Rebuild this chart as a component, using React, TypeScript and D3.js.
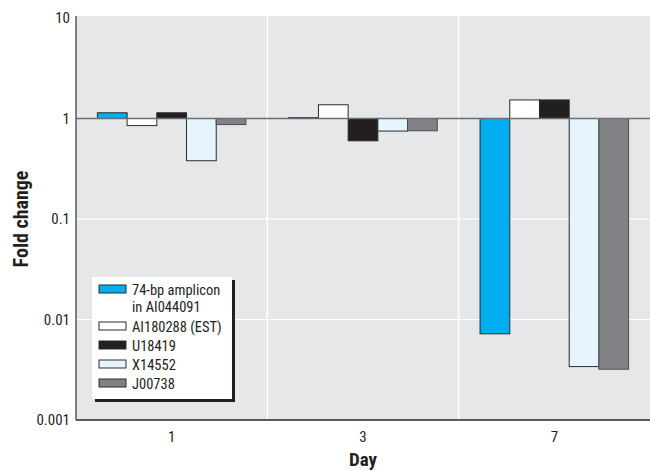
import React, { useEffect, useRef } from 'react';
import * as d3 from 'd3';

const days = ['1', '3', '7'];
const seriesNames = ['74-bp amplicon in AI044091', 'AI180288 (EST)', 'U18419', 'X14552', 'J00738'];
const legendLines = [['74-bp amplicon', 'in AI044091'], ['AI180288 (EST)'], ['U18419'], ['X14552'], ['J00738']];
const amplicon = [1.14, 1.02, 0.0072];
const ai180288 = [0.85, 1.37, 1.53];
const u18419 = [1.14, 0.6, 1.53];
const x14552 = [0.38, 0.75, 0.0034];
const j00738 = [0.87, 0.755, 0.0032];
const yTicks = [0.001, 0.01, 0.1, 1, 10];
const yTickLabels = ['0.001', '0.01', '0.1', '1', '10'];

const colors = ['#00aeef', '#ffffff', '#231f20', '#e6f5fd', '#808285'];
const font = '"Liberation Sans Narrow", "Arial Narrow", "Roboto Condensed", sans-serif';

const App: React.FC = () => {
    const chartRef = useRef<SVGSVGElement | null>(null);

    useEffect(() => {
        if (!chartRef.current) return;
        const width = 650;
        const height = 470;
        const margin = { top: 18, right: 0, bottom: 50, left: 76 };
        const values = [amplicon, ai180288, u18419, x14552, j00738];

        d3.select(chartRef.current).selectAll('*').remove();
        const svg = d3.select(chartRef.current).attr('width', width).attr('height', height);

        const x0 = d3.scaleBand().domain(days).range([margin.left, width - margin.right]);
        const x1 = d3.scaleBand().domain(seriesNames).range([0, x0.bandwidth()]).paddingOuter(0.72);
        const y = d3.scaleLog().domain([0.001, 10]).range([height - margin.bottom, margin.top]);

        // plot background
        svg.append('rect')
            .attr('x', margin.left)
            .attr('y', margin.top - 2)
            .attr('width', width - margin.left - margin.right)
            .attr('height', y(0.001) - margin.top + 2)
            .attr('fill', '#e6e7e8');

        // white grid lines
        svg.selectAll('line.hgrid')
            .data([0.01, 0.1])
            .enter()
            .append('line')
            .attr('x1', margin.left)
            .attr('x2', width)
            .attr('y1', d => y(d))
            .attr('y2', d => y(d))
            .attr('stroke', '#fff')
            .attr('stroke-width', 1.2);

        svg.selectAll('line.vgrid')
            .data(days.slice(1))
            .enter()
            .append('line')
            .attr('x1', d => x0(d)!)
            .attr('x2', d => x0(d)!)
            .attr('y1', margin.top - 2)
            .attr('y2', y(0.001))
            .attr('stroke', '#fff')
            .attr('stroke-width', 1.5);

        // bars hang from 1
        const groups = svg.selectAll('g.day')
            .data(days)
            .enter()
            .append('g')
            .attr('transform', d => `translate(${x0(d)}, 0)`);

        groups.selectAll('rect')
            .data((d, i) => seriesNames.map((s, j) => ({ s, j, v: values[j][i] })))
            .enter()
            .append('rect')
            .attr('x', d => x1(d.s)!)
            .attr('width', x1.bandwidth())
            .attr('y', d => Math.min(y(d.v), y(1)))
            .attr('height', d => Math.abs(y(d.v) - y(1)))
            .attr('fill', d => colors[d.j])
            .attr('stroke', d => (d.j === 4 ? '#4d4d4f' : '#2b2b2b'))
            .attr('stroke-width', 1);

        // baseline at 1
        svg.append('line')
            .attr('x1', margin.left)
            .attr('x2', width)
            .attr('y1', y(1))
            .attr('y2', y(1))
            .attr('stroke', '#6d6e71')
            .attr('stroke-width', 1.5);

        // axes
        svg.append('line')
            .attr('x1', margin.left)
            .attr('x2', margin.left)
            .attr('y1', margin.top - 2)
            .attr('y2', y(0.001))
            .attr('stroke', '#58595b')
            .attr('stroke-width', 1.5);
        svg.append('line')
            .attr('x1', margin.left)
            .attr('x2', width)
            .attr('y1', y(0.001))
            .attr('y2', y(0.001))
            .attr('stroke', '#58595b')
            .attr('stroke-width', 2);

        svg.selectAll('text.ytick')
            .data(yTicks)
            .enter()
            .append('text')
            .attr('x', margin.left - 6)
            .attr('y', d => y(d))
            .attr('dy', '0.35em')
            .attr('text-anchor', 'end')
            .style('font-family', font)
            .style('font-size', '15px')
            .style('fill', '#231f20')
            .text((d, i) => yTickLabels[i]);

        svg.selectAll('text.xtick')
            .data(days)
            .enter()
            .append('text')
            .attr('x', d => x0(d)! + x0.bandwidth() / 2)
            .attr('y', y(0.001) + 22)
            .attr('text-anchor', 'middle')
            .style('font-family', font)
            .style('font-size', '15px')
            .style('fill', '#231f20')
            .text(d => d);

        svg.append('text')
            .attr('x', x0('3')! + x0.bandwidth() / 2)
            .attr('y', 466)
            .attr('text-anchor', 'middle')
            .style('font-family', font)
            .style('font-size', '19px')
            .style('font-weight', 'bold')
            .style('fill', '#231f20')
            .text('Day');

        svg.append('text')
            .attr('transform', `translate(28, ${y(0.1)}) rotate(-90)`)
            .attr('text-anchor', 'middle')
            .style('font-family', font)
            .style('font-size', '20px')
            .style('font-weight', 'bold')
            .style('fill', '#231f20')
            .text('Fold change');

        // legend
        const lg = svg.append('g').attr('transform', 'translate(92, 277)');
        lg.append('rect').attr('x', 3).attr('y', 3).attr('width', 140).attr('height', 122).attr('fill', '#231f20');
        lg.append('rect').attr('x', 0).attr('y', 0).attr('width', 140).attr('height', 122).attr('fill', '#fff');
        const rowY = [18, 55, 74, 93, 112];
        legendLines.forEach((lines, i) => {
            lg.append('rect')
                .attr('x', 7)
                .attr('y', rowY[i] - 10)
                .attr('width', 27)
                .attr('height', 8)
                .attr('fill', colors[i])
                .attr('stroke', '#2b2b2b')
                .attr('stroke-width', 1);
            lines.forEach((t, k) => {
                lg.append('text')
                    .attr('x', 40)
                    .attr('y', rowY[i] + k * 16.5)
                    .style('font-family', font)
                    .style('font-size', '14.5px')
                    .style('fill', '#231f20')
                    .text(t);
            });
        });
    }, []);

    return <svg ref={chartRef} style={{ position: 'absolute', left: 0, top: 0 }} />;
};

export default App;
